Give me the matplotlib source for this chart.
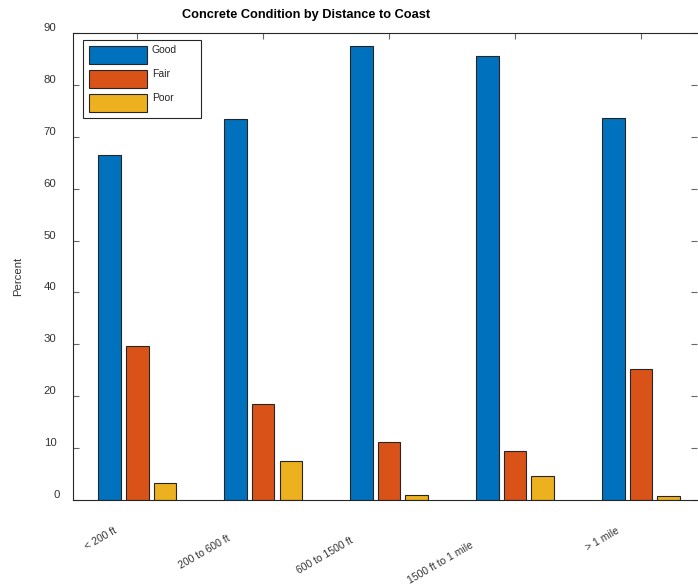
import matplotlib
matplotlib.use("Agg")
import matplotlib.pyplot as plt
import matplotlib.transforms as mtransforms
from matplotlib.patches import Rectangle
import numpy as np

plt.rcParams['font.family'] = ['Liberation Sans', 'DejaVu Sans']

categories = ['< 200 ft', '200 to 600 ft', '600 to 1500 ft', '1500 ft to 1 mile', '> 1 mile']
good = [66.5, 73.4, 87.5, 85.6, 73.6]
fair = [29.7, 18.5, 11.2, 9.4, 25.2]
poor = [3.3, 7.6, 1.0, 4.6, 0.85]
series_names = ['Good', 'Fair', 'Poor']
colors = ['#0072BD', '#D95319', '#EDB120']
yticks = [0, 10, 20, 30, 40, 50, 60, 70, 80, 90]

W, H = 698, 588
fig = plt.figure(figsize=(W / 100, H / 100), dpi=100)
ax = fig.add_axes([73 / W, 1 - 500 / H, (697 - 73) / W, (500 - 33) / H])

x = np.arange(1, len(categories) + 1)
bw = 0.18
off = 0.22
for i, (vals, name, c) in enumerate(zip([good, fair, poor], series_names, colors)):
    ax.bar(x + (i - 1) * off, vals, width=bw, color=c, edgecolor='#262626',
           linewidth=0.8, label=name, zorder=2)

ax.set_xlim(0.49, 5.445)
ax.set_ylim(0, 90)
ax.set_yticks(yticks)
ax.set_xticks(x)
ax.set_xticklabels([])
ax.set_yticklabels([])

axcol = '#262626'
for s in ax.spines.values():
    s.set_color(axcol)
    s.set_linewidth(0.8)
ax.spines['right'].set_visible(False)
ax.tick_params(axis='both', direction='in', length=4, width=0.8, color='#666666',
               top=True, right=True)

px = lambda dx, dy: mtransforms.ScaledTranslation(dx / 100, dy / 100, fig.dpi_scale_trans)
txtcol = '#333333'

# y tick labels
ytexts = []
for yv in yticks:
    t = ax.text(0, yv, str(yv), ha='right', va='center', fontsize=8.2, color=txtcol,
                transform=ax.get_yaxis_transform())
    ytexts.append(t)

# rotated category labels
xtexts = []
for xi, cat in zip(x, categories):
    t = ax.text(xi, 0, cat, rotation=30, ha='right', va='top', fontsize=7.5,
                color=txtcol, transform=ax.get_xaxis_transform())
    xtexts.append(t)

fig.canvas.draw()
r = fig.canvas.get_renderer()
for t in ytexts:
    w = t.get_window_extent(r).width
    t.set_transform(ax.get_yaxis_transform() + px(-10 - 0.5 * w, 5))
for t in xtexts:
    bwid = t.get_window_extent(r).width
    t.set_transform(ax.get_xaxis_transform() + px(2.5 - 0.615 * bwid, -(9.7 + 0.436 * bwid)))

ax.set_ylabel('Percent', fontsize=8.2, color=txtcol)
ax.yaxis.set_label_coords((23 - 73) / 624, (500 - 276) / 467)
ax.set_title('Concrete Condition by Distance to Coast', fontsize=9.2, fontweight='bold',
             pad=11, x=(306 - 73) / 624)

# legend box (pixel layout, y measured from top)
pix = mtransforms.Affine2D().scale(1 / W, -1 / H).translate(0, 1) + fig.transFigure
fig.patches.append(Rectangle((83, 40), 118, 78, transform=pix, facecolor='white',
                             edgecolor='#262626', linewidth=0.8, zorder=5))
for i, (name, c) in enumerate(zip(series_names, colors)):
    y0 = 46 + 24 * i
    fig.patches.append(Rectangle((89, y0), 58, 18, transform=pix, facecolor=c,
                                 edgecolor='#262626', linewidth=0.8, zorder=6))
    fig.text(152, y0 - 1, name, transform=pix, fontsize=7.5, color='#262626',
             va='top', ha='left', zorder=7)

fig.savefig('out.png', dpi=100)
